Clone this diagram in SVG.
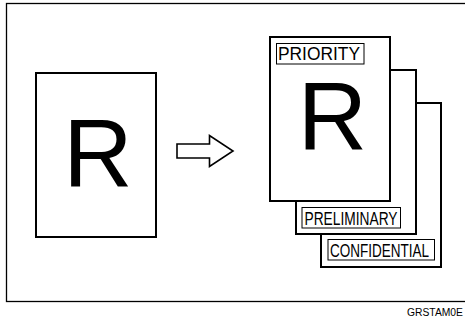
<svg xmlns="http://www.w3.org/2000/svg" width="465" height="320" viewBox="0 0 465 320">
<style>
.page{fill:#fff;stroke:#000;stroke-width:2}
.lbl{fill:#fff;stroke:#000;stroke-width:1}
.t{font-family:"Liberation Sans",Arial,sans-serif;fill:#000}
.big{font-size:96px;text-anchor:middle}
.small{font-size:17.6px}
</style>
<rect x="0" y="0" width="465" height="320" fill="#fff"/>
<rect x="6.5" y="3.5" width="470" height="298" fill="none" stroke="#000" stroke-width="1.3"/>
<g id="original">
<rect class="page" x="36" y="73" width="120" height="164"/>
<text class="t big" x="98" y="186.5">R</text>
</g>
<g id="connectors">
<path d="M177,144 H209.5 V135.5 L233,151 L209.5,166.5 V158 H177 Z" fill="#fff" stroke="#000" stroke-width="1.6" stroke-linejoin="miter"/>
</g>
<g id="confidential">
<rect class="page" x="321" y="103" width="120" height="164"/>
<rect class="lbl" x="328" y="239.5" width="106.5" height="20.5"/>
<text class="t small" x="330" y="257" textLength="99" lengthAdjust="spacingAndGlyphs">CONFIDENTIAL</text>
</g>
<g id="preliminary">
<rect class="page" x="296" y="70" width="120" height="164"/>
<rect class="lbl" x="302" y="207.5" width="98.5" height="20.5"/>
<text class="t small" x="304.5" y="224.7" textLength="93" lengthAdjust="spacingAndGlyphs">PRELIMINARY</text>
</g>
<g id="priority">
<rect class="page" x="270" y="37" width="120" height="164"/>
<rect class="lbl" x="276.5" y="43.5" width="87.5" height="20.5"/>
<text class="t small" x="278" y="59.7" textLength="82" lengthAdjust="spacingAndGlyphs">PRIORITY</text>
<text class="t big" x="332.5" y="150">R</text>
</g>
<text class="t" x="407" y="316" font-size="10" textLength="56" lengthAdjust="spacingAndGlyphs">GRSTAM0E</text>
</svg>
